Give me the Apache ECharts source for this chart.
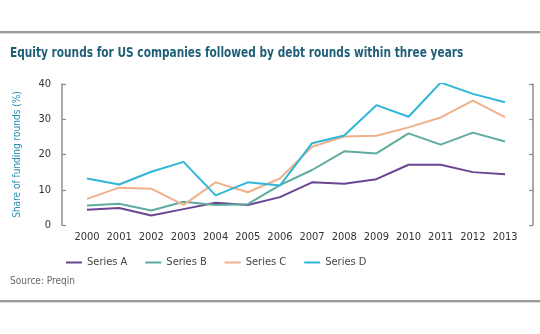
<!DOCTYPE html>
<html>
<head>
<meta charset="utf-8">
<script src="https://cdn.jsdelivr.net/npm/echarts@6/dist/echarts.min.js"></script>
<style>
html,body{margin:0;padding:0;background:#fff;}
#c{width:540px;height:334px;}
</style>
</head>
<body>
<div id="c"></div>
<script>
var years = ['2000','2001','2002','2003','2004','2005','2006','2007','2008','2009','2010','2011','2012','2013'];
var seriesA = [4.3, 4.8, 2.7, 4.5, 6.3, 5.7, 7.9, 12.1, 11.7, 13.0, 17.1, 17.1, 15.0, 14.4];
var seriesB = [5.5, 6.0, 4.1, 6.6, 5.7, 5.9, 11.3, 15.6, 20.9, 20.3, 26.0, 22.8, 26.2, 23.7];
var seriesC = [7.4, 10.6, 10.3, 5.7, 12.1, 9.3, 13.2, 22.2, 25.1, 25.3, 27.7, 30.5, 35.3, 30.6];
var seriesD = [13.2, 11.5, 15.1, 17.9, 8.4, 12.1, 11.2, 23.2, 25.4, 34.0, 30.7, 40.4, 37.2, 34.8];
var seriesNames = ['Series A','Series B','Series C','Series D'];
var colors = ['#6b4592','#5fab9f','#f1b08a','#2fb6d8'];
var font = '"DejaVu Sans Condensed", "DejaVu Sans", sans-serif';

var chart = echarts.init(document.getElementById('c'), null, {renderer:'canvas'});
var dataSets = [seriesA, seriesB, seriesC, seriesD];
var axisStyle = {
  type:'value', min:0, max:40, interval:10,
  axisLine:{show:true, lineStyle:{color:'#8c8c8c', width:1.5}},
  axisTick:{show:true, inside:true, length:4, lineStyle:{color:'#8c8c8c', width:1.2}},
  splitLine:{show:false}
};
chart.setOption({
  animation:false,
  color: colors,
  graphic:[
    {type:'rect', shape:{x:0, y:31, width:540, height:2}, style:{fill:'#9a9a9a'}},
    {type:'rect', shape:{x:0, y:33, width:540, height:1}, style:{fill:'#d8d8d8'}},
    {type:'rect', shape:{x:0, y:300, width:540, height:2}, style:{fill:'#9a9a9a'}},
    {type:'rect', shape:{x:0, y:302, width:540, height:1}, style:{fill:'#d8d8d8'}},
    {type:'text', x:10, y:46, scaleX:0.84, style:{text:'Equity rounds for US companies followed by debt rounds within three years', font:'bold 14px ' + font, fill:'#1f5f78'}},
    {type:'text', left:10, top:276, style:{text:'Source: Preqin', font:'10px ' + font, fill:'#666666'}}
  ],
  legend:{
    left:61, top:252,
    itemWidth:16, itemHeight:2, itemGap:18,
    icon:'rect',
    textStyle:{fontFamily:font, fontSize:11, color:'#444444'},
    data: seriesNames
  },
  grid:{left:87, right:35, top:84, bottom:109, containLabel:false},
  xAxis:{
    type:'category', data:years, boundaryGap:false,
    axisLine:{show:false}, axisTick:{show:false}, splitLine:{show:false},
    axisLabel:{fontFamily:font, fontSize:11, color:'#333333', margin:7, interval:0}
  },
  yAxis:[
    Object.assign({}, axisStyle, {
      position:'left', offset:25,
      name:'Share of funding rounds (%)', nameLocation:'middle', nameGap:40,
      nameTextStyle:{fontFamily:font, fontSize:10, color:'#2a8db5'},
      axisLabel:{fontFamily:font, fontSize:11, color:'#333333', margin:11}
    }),
    Object.assign({}, axisStyle, {
      position:'right', offset:28,
      axisLabel:{show:false}
    })
  ],
  series: dataSets.map(function(d, i){
    return {
      name: seriesNames[i], type:'line', data:d, yAxisIndex:0,
      symbol:'none', lineStyle:{width:2, color:colors[i]}, itemStyle:{color:colors[i]}
    };
  })
});
</script>
</body>
</html>
